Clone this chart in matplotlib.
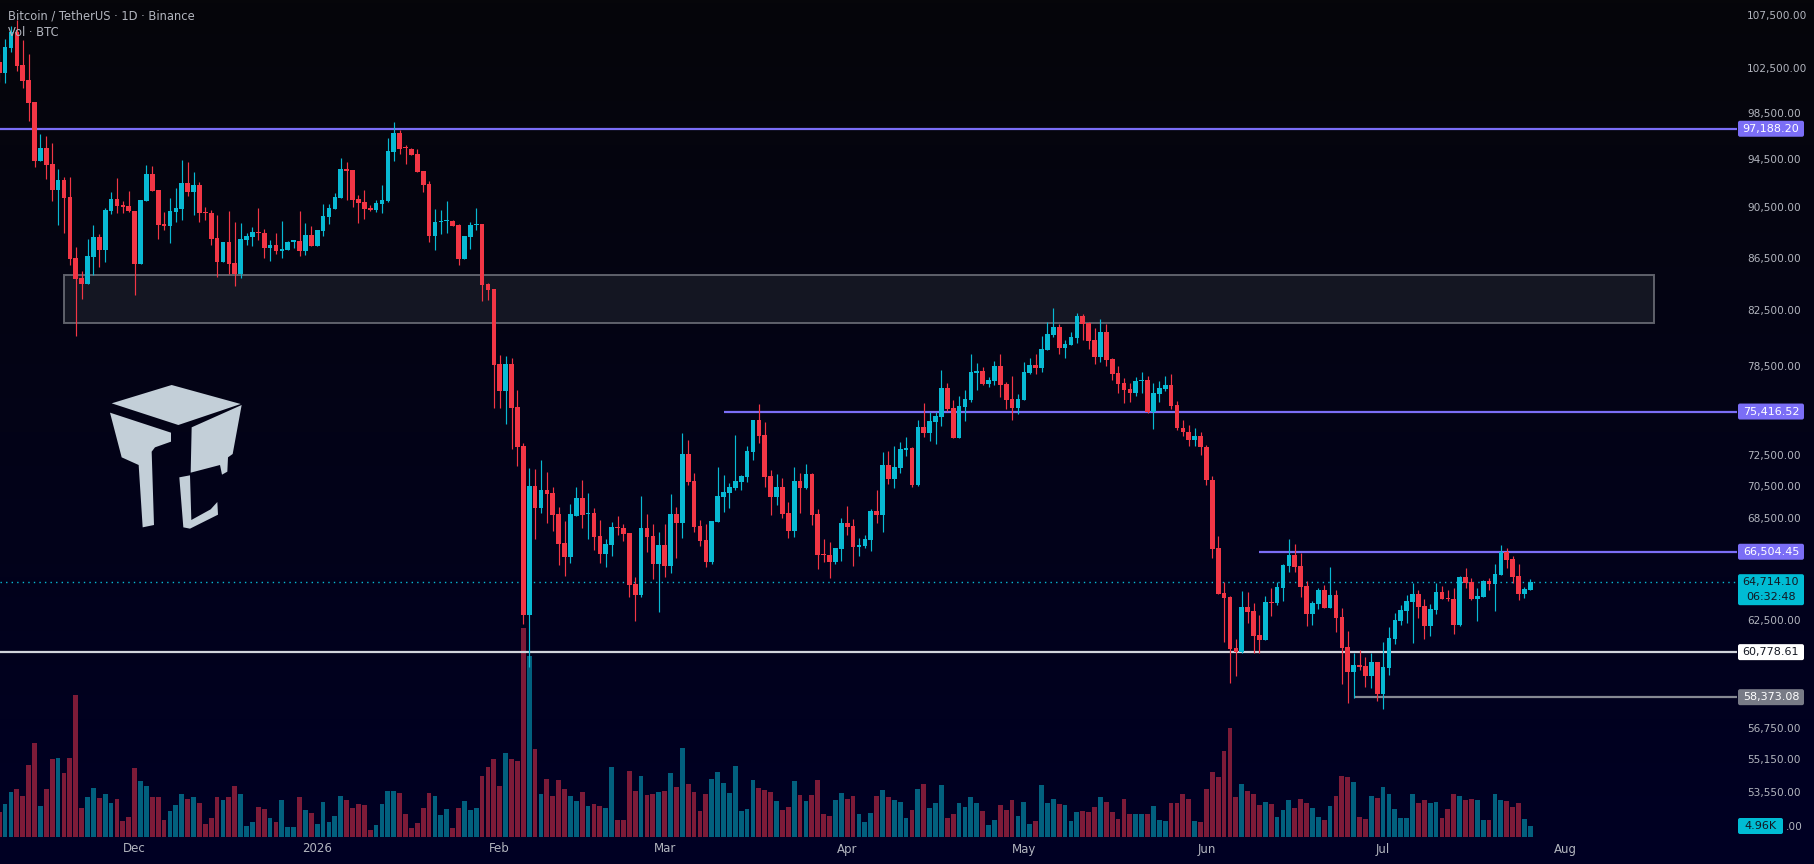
import numpy as np
import matplotlib
matplotlib.use("Agg")
import matplotlib.pyplot as plt
import matplotlib.dates as mdates
from matplotlib.patches import Rectangle, Polygon, FancyBboxPatch

# daily BTCUSDT candles, first candle 2025-11-08
start_day = "2025-11-08"
opens = [103200, 102180, 104500, 106010, 102920, 101540, 99560, 94430, 95530, 94170,
         92000, 92830, 91430, 86560, 85020, 84560, 86630, 88210, 87180, 90280,
         91260, 90770, 90690, 90280, 86090, 91100, 93330, 92000, 89240, 89080,
         90200, 90440, 92580, 91840, 92420, 90200, 90120, 88130, 86250, 87810,
         86170, 85320, 87970, 88210, 88600, 88520, 87330, 87570, 87100, 87180,
         87810, 87890, 87100, 88360, 87490, 88680, 89800, 90440, 91350, 93750,
         93670, 91260, 91020, 90520, 90360, 90860, 91100, 95190, 96830, 95620,
         95450, 95020, 93580, 92500, 88280, 89400, 89480, 89480, 89160, 86480,
         88210, 89160, 89240, 84560, 84180, 78700, 76820, 78700, 75730, 73120,
         62840, 70540, 69170, 70290, 70100, 68800, 67030, 66190, 68670, 69790,
         68800, 68860, 67450, 66370, 66910, 68000, 67940, 67630, 64610, 63970,
         67940, 67450, 65780, 66910, 65660, 68800, 68240, 72600, 70860, 68060,
         67210, 65900, 68300, 69850, 70100, 70420, 70800, 71120, 72730, 74850,
         73850, 71180, 69850, 70480, 68860, 67760, 70860, 70420, 71310, 68800,
         66370, 66310, 65900, 66670, 68240, 68060, 66790, 66850, 67210, 68980,
         68730, 71890, 70990, 71700, 72860, 72990, 70610, 74380, 73980, 74720,
         75050, 77030, 75660, 73650, 75730, 76200, 78070, 78210, 77310, 77510,
         78560, 77310, 76270, 75660, 76200, 78070, 78630, 78420, 79700, 80780,
         81360, 79840, 80060, 80560, 82170, 81650, 80420, 79200, 81000, 79060,
         78070, 77380, 76960, 76680, 77510, 77580, 75390, 76620, 76960, 77240,
         75860, 74320, 74050, 73520, 73780, 73060, 70930, 66730, 64090, 63860,
         61000, 60790, 63290, 63060, 61720, 61450, 63570, 63520, 64380, 65660,
         66310, 65660, 64490, 62900, 63460, 64260, 63230, 63970, 62730, 61060,
         59710, 60080, 60030, 59490, 60240, 58540, 59920, 61500, 62500, 63060,
         63570, 64030, 63350, 62220, 63120, 64150, 63800, 63750, 62280, 65020,
         64730, 63750, 63860, 64780, 64610, 65130, 66490, 66080, 65070, 64030,
         64260]
highs = [103940, 105350, 106580, 107160, 105250, 103940, 99560, 96740, 96570, 95960,
         93750, 93080, 93080, 87410, 85550, 88050, 89160, 88440, 90520, 91840,
         93000, 91100, 91920, 90280, 91180, 94090, 94010, 92000, 90200, 91350,
         92170, 94510, 94340, 93500, 92660, 90610, 90360, 89960, 87810, 90280,
         89400, 89320, 88520, 89000, 90520, 88840, 87970, 88520, 89480, 87890,
         87970, 90280, 89320, 89080, 88760, 90860, 90860, 91760, 94680, 94340,
         93670, 91590, 92000, 90770, 91180, 92420, 96390, 97790, 97090, 95790,
         95530, 95450, 93580, 92750, 90440, 90360, 91100, 89560, 89240, 88280,
         89400, 90520, 89240, 84640, 84180, 79340, 79270, 79130, 76890, 73320,
         71690, 71630, 72210, 71440, 70480, 69230, 68370, 69420, 70480, 70930,
         70100, 69170, 68430, 67270, 68300, 68670, 68180, 67630, 65020, 69920,
         68800, 68180, 67690, 68180, 70040, 69230, 73980, 73520, 71370, 68430,
         68180, 68370, 71760, 71250, 70740, 73850, 71250, 73120, 74850, 75930,
         74720, 71570, 71310, 71050, 69540, 71760, 71370, 71950, 71370, 69100,
         67270, 67090, 66730, 68550, 69290, 68490, 67330, 67510, 69100, 70290,
         72730, 72800, 73120, 73390, 73720, 73060, 74850, 76000, 75390, 75390,
         78280, 77380, 76200, 76480, 76890, 79410, 78780, 78490, 77790, 78920,
         79410, 77450, 77860, 76620, 78850, 79130, 79410, 80710, 81730, 82760,
         81580, 80420, 81000, 82390, 82320, 81730, 81290, 81950, 81580, 79130,
         78560, 77720, 77380, 77790, 78140, 77860, 77380, 77510, 77860, 78000,
         76140, 74850, 74510, 74320, 74050, 73190, 71180, 67450, 64730, 63920,
         61500, 64200, 64150, 63520, 62840, 63920, 64380, 64730, 65780, 67270,
         66970, 66430, 64780, 63630, 64380, 64550, 65600, 64260, 63230, 61940,
         60730, 60900, 60510, 60730, 60240, 61340, 62170, 62950, 63400, 63970,
         64670, 64260, 63750, 63460, 64670, 64490, 64260, 64380, 65070, 65540,
         64960, 64380, 64840, 64960, 65780, 66910, 66730, 66250, 65780, 64440,
         64900]
lows = [101360, 101270, 104130, 102370, 100820, 97880, 93920, 94430, 92910, 91100,
        89160, 88520, 86020, 80710, 83430, 84560, 85250, 85860, 86250, 90040,
        90120, 90120, 90200, 83730, 86090, 91100, 91920, 88050, 88760, 87730,
        89400, 89560, 91510, 89960, 89400, 89560, 87570, 85090, 86250, 85320,
        84410, 85020, 87570, 87490, 87970, 86560, 86320, 86870, 86560, 87180,
        87330, 86710, 86790, 87490, 87490, 88280, 89240, 90440, 91350, 91180,
        90610, 89320, 89640, 90280, 90200, 90120, 91020, 94430, 95020, 94170,
        94940, 93500, 91840, 87810, 87180, 88440, 88520, 89080, 86020, 86480,
        87260, 88760, 83280, 83360, 75660, 75660, 74580, 72920, 71820, 62330,
        59970, 67270, 68860, 68240, 67760, 65720, 65070, 65840, 68670, 67940,
        67270, 66610, 65840, 65600, 66250, 67510, 67150, 63860, 62500, 63860,
        66490, 64900, 63010, 65020, 65250, 66140, 67330, 70610, 67690, 66850,
        65600, 65780, 68300, 68920, 69170, 70290, 70290, 70800, 72210, 73320,
        70480, 68730, 69350, 68550, 67330, 67390, 68860, 70350, 68120, 65490,
        65900, 64960, 65780, 65960, 67510, 65660, 66250, 66730, 66550, 68240,
        67690, 70670, 70420, 71370, 72470, 70480, 70540, 73720, 73450, 73250,
        74450, 75460, 73650, 73650, 74780, 76070, 76890, 77240, 77100, 77240,
        76410, 75590, 74850, 75250, 76200, 78000, 78000, 78140, 79700, 80640,
        79420, 79130, 80060, 80200, 80420, 79770, 78700, 78850, 78560, 77580,
        76680, 76000, 76070, 76480, 76680, 75320, 74250, 76070, 76820, 75590,
        74180, 73780, 73120, 73120, 72540, 70610, 66140, 64030, 61340, 59120,
        59490, 60730, 62390, 60730, 60730, 61450, 62780, 63400, 63630, 65310,
        65310, 63860, 62220, 62280, 63180, 63230, 63230, 61890, 59070, 58070,
        58330, 59810, 58910, 58860, 58180, 57760, 59550, 61230, 62280, 62390,
        61280, 62670, 61500, 61670, 62900, 63750, 63630, 61780, 62220, 64380,
        63690, 62500, 63860, 64260, 63060, 65130, 65540, 64670, 63690, 63800,
        64260]
closes = [102180, 104600, 106010, 102820, 101450, 99470, 94430, 95530, 94090, 92000,
          92830, 91350, 86480, 84940, 84560, 86710, 88210, 87180, 90360, 91260,
          90690, 90610, 90280, 86090, 91180, 93330, 91920, 89160, 89080, 90280,
          90520, 92580, 91840, 92420, 90120, 90120, 88050, 86250, 87810, 86090,
          85320, 88050, 88280, 88600, 88520, 87330, 87570, 87100, 87260, 87810,
          87970, 87100, 88360, 87490, 88760, 89880, 90520, 91430, 93750, 93580,
          91180, 90930, 90440, 90360, 90930, 91180, 95280, 96830, 95450, 95530,
          94940, 93500, 92420, 88280, 89400, 89480, 89560, 89080, 86480, 88280,
          89160, 89240, 84490, 84110, 78630, 76820, 78700, 75660, 73060, 62840,
          70540, 69170, 70290, 70040, 68730, 66970, 66190, 68800, 69790, 68730,
          68860, 67390, 66370, 66970, 68000, 67940, 67570, 64550, 63970, 67940,
          67390, 65780, 66910, 65660, 68800, 68240, 72600, 70800, 68000, 67150,
          65900, 68370, 69920, 70170, 70480, 70860, 71180, 72800, 74850, 73780,
          71120, 69850, 70480, 68800, 67760, 70860, 70420, 71310, 68730, 66310,
          66310, 65900, 66730, 68240, 68000, 66790, 66910, 67270, 68980, 68730,
          71890, 70990, 71760, 72920, 72990, 70610, 74380, 73980, 74780, 75120,
          77030, 75590, 73650, 75800, 76270, 78140, 78210, 77310, 77580, 78560,
          77240, 76200, 75660, 76270, 78140, 78630, 78420, 79770, 80850, 81360,
          79840, 80130, 80640, 82170, 81580, 80350, 79200, 81000, 78990, 78000,
          77310, 76890, 76680, 77510, 77580, 75390, 76680, 77030, 77240, 75800,
          74320, 74050, 73520, 73780, 73060, 70930, 66670, 64030, 63800, 60950,
          60790, 63290, 63010, 61670, 61450, 63570, 63520, 64440, 65720, 66310,
          65600, 64440, 62900, 63520, 64260, 63230, 63970, 62670, 61000, 59710,
          60080, 59970, 59490, 60240, 58540, 59970, 61560, 62560, 63120, 63630,
          64030, 63290, 62220, 63180, 64150, 63750, 63750, 62280, 65020, 64670,
          63750, 63920, 64780, 64610, 65190, 66490, 66020, 65020, 64030, 64320,
          64714.10]
# volume in thousand BTC
volumes = [11.3, 14.9, 20.3, 21.6, 18.5, 32.4, 42.3, 14.0, 21.6, 35.1,
           35.6, 28.8, 35.6, 63.9, 13.1, 18.0, 22.1, 17.6, 19.4, 15.3,
           17.1, 7.2, 9.0, 31.1, 25.2, 23.0, 18.0, 18.0, 7.7, 11.7,
           14.4, 19.4, 17.1, 18.0, 15.3, 5.9, 8.6, 18.0, 16.7, 18.0,
           23.0, 19.4, 5.0, 6.8, 13.5, 12.6, 8.6, 6.8, 16.7, 4.5,
           4.5, 18.0, 12.2, 10.8, 5.9, 15.8, 6.8, 9.5, 18.5, 16.7,
           13.1, 14.9, 14.4, 3.2, 5.4, 14.9, 20.7, 20.7, 19.8, 10.4,
           4.1, 6.3, 13.1, 19.8, 18.5, 9.9, 12.6, 4.1, 13.1, 16.2,
           12.2, 13.1, 27.5, 31.5, 35.1, 23.0, 37.8, 35.1, 34.2, 94.1,
           81.5, 39.6, 19.4, 26.1, 18.5, 25.7, 21.6, 18.5, 16.2, 20.3,
           14.0, 14.9, 14.0, 13.1, 31.5, 7.7, 7.7, 29.7, 20.7, 27.5,
           18.9, 19.4, 20.3, 20.7, 28.8, 22.5, 40.1, 23.9, 20.3, 11.7,
           19.4, 26.1, 29.3, 24.3, 19.8, 32.0, 11.7, 12.6, 25.7, 22.1,
           21.2, 20.3, 16.2, 12.2, 13.5, 25.2, 18.9, 16.2, 18.9, 25.7,
           10.4, 9.5, 16.7, 19.8, 17.1, 18.5, 10.4, 6.8, 10.8, 18.5,
           21.2, 18.0, 16.7, 15.8, 8.6, 12.2, 21.6, 23.9, 13.1, 15.3,
           23.4, 8.6, 10.4, 15.3, 13.5, 18.0, 15.3, 11.7, 5.4, 7.7,
           14.4, 12.2, 16.7, 9.5, 15.8, 5.9, 7.2, 23.4, 15.3, 17.1,
           14.9, 14.4, 7.2, 11.3, 11.7, 11.3, 13.5, 18.0, 15.8, 11.3,
           8.1, 17.1, 10.4, 10.4, 10.4, 10.4, 14.0, 7.7, 7.2, 15.3,
           15.3, 19.4, 17.1, 7.2, 6.8, 21.6, 29.3, 27.0, 38.7, 49.1,
           18.0, 23.9, 20.7, 19.4, 14.4, 15.8, 14.9, 9.0, 12.2, 16.7,
           13.1, 17.1, 15.3, 13.1, 9.0, 7.7, 14.0, 18.5, 27.5, 27.0,
           24.8, 9.0, 8.1, 18.5, 17.6, 22.5, 19.4, 12.6, 8.6, 8.6,
           19.4, 15.3, 16.7, 15.3, 15.8, 8.6, 12.6, 19.4, 18.5, 16.7,
           17.1, 16.7, 7.7, 7.7, 19.4, 16.7, 16.2, 13.5, 15.3, 8.1,
           4.96]

price_ticks = [107500, 102500, 98500, 94500, 90500, 86500, 82500, 78500,
               72500, 70500, 68500, 62500, 56750, 55150, 53550]
hidden_tick = 51950   # mostly covered by the volume tag, only ".00" shows
month_ticks = ["2025-12-01", "2026-01-01", "2026-02-01", "2026-03-01",
               "2026-04-01", "2026-05-01", "2026-06-01", "2026-07-01", "2026-08-01"]
month_labels = ["Dec", "2026", "Feb", "Mar", "Apr", "May", "Jun", "Jul", "Aug"]

# drawn levels: (price, start date)
res_top = (97188.20, None)
res_mid = (75416.52, "2026-03-11")
res_low = (66504.45, "2026-06-10")
sup_main = 60778.61
sup_low = (58373.08, "2026-06-26")
last_price = 64714.10
zone = ("2025-11-19", "2026-08-16", 81650, 85240)

UP, DOWN = "#08B9D3", "#F23645"
VUP, VDOWN = "#02607E", "#7D1B38"
PURPLE = "#7B6EF6"
TXT = "#B2B5BE"

W, H = 1815, 864
fig = plt.figure(figsize=(W / 100, H / 100), dpi=100)

# gradient background
bg = fig.add_axes([0, 0, 1, 1], zorder=0)
g = np.linspace(0, 1, 256)[:, None, None]
top_c = np.array([6, 6, 10]) / 255
bot_c = np.array([0, 0, 36]) / 255
bg.imshow(top_c + (bot_c - top_c) * g, aspect="auto", extent=[0, 1, 0, 1])
bg.axis("off")

rect = [0, 27 / H, 1737 / W, 837 / H]
vax = fig.add_axes(rect, zorder=1)
ax = fig.add_axes(rect, zorder=2, sharex=vax)
for a in (ax, vax):
    a.patch.set_alpha(0)
    a.set_xticks([])
    a.set_yticks([])
    for s in a.spines.values():
        s.set_visible(False)

dates = np.arange(np.datetime64(start_day), np.datetime64(start_day) + len(closes))
x = mdates.date2num(dates)
o = np.array(opens, float)
h = np.array(highs, float)
l = np.array(lows, float)
c = np.array(closes, float)
up = c >= o
cols = np.where(up, UP, DOWN)

dec1 = mdates.date2num(np.datetime64("2025-12-01"))
x0, x1 = dec1 - 22.86, dec1 + 272.1

ax.set_yscale("log")
ax.set_ylim(51493, 109084)
ax.set_xlim(x0, x1)
ax.minorticks_off()
ax.set_yticks([])

# volume
vax.bar(x, volumes, width=0.82, color=np.where(up, VUP, VDOWN), linewidth=0)
vax.set_ylim(0, 837 * 0.451)

# zone box
zx0 = mdates.date2num(np.datetime64(zone[0]))
zx1 = mdates.date2num(np.datetime64(zone[1]))
ax.add_patch(Rectangle((zx0, zone[2]), zx1 - zx0, zone[3] - zone[2],
                       facecolor="#181a26", alpha=0.85, edgecolor="#6E7079",
                       linewidth=1.4, zorder=1))

# levels
def level(p, start, color, lw=1.6):
    xs = x0 if start is None else mdates.date2num(np.datetime64(start))
    ax.hlines(p, xs, x1, color=color, lw=lw, zorder=2)

level(res_top[0], res_top[1], PURPLE)
level(res_mid[0], res_mid[1], PURPLE)
level(res_low[0], res_low[1], PURPLE)
level(sup_main, None, "#D1D4DC")
level(sup_low[0], sup_low[1], "#868993")
ax.hlines(last_price, x0, x1, color=UP, lw=1.0, linestyles=(0, (1, 3)), zorder=2)

# candles
ax.vlines(x, l, h, colors=cols, lw=0.85, zorder=3)
body_lo = np.minimum(o, c)
body_h = np.maximum(np.abs(c - o), body_lo * 0.0012)
ax.bar(x, body_h, bottom=body_lo, width=0.79, color=cols, linewidth=0, zorder=4)

# overlay in pixel space for the axis labels / tags / watermark
ov = fig.add_axes([0, 0, 1, 1], zorder=5)
ov.set_xlim(0, W)
ov.set_ylim(0, H)
ov.axis("off")
ov.patch.set_alpha(0)


def ypix(p):
    return ax.transData.transform((x0, p))[1]


for p in price_ticks:
    ov.text(1747, ypix(p), f"{p:,.2f}", ha="left", va="center",
            fontsize=7.6, color=TXT, zorder=2)


def tag(p, text, face, tc, w=66):
    y = ypix(p)
    ov.add_patch(FancyBboxPatch((1738, y - 8), w, 16, boxstyle="round,pad=0,rounding_size=2",
                                facecolor=face, edgecolor="none", zorder=4))
    ov.text(1738 + w / 2, y, text, ha="center", va="center", fontsize=8,
            color=tc, zorder=5)


tag(res_top[0], f"{res_top[0]:,.2f}", PURPLE, "white")
tag(res_mid[0], f"{res_mid[0]:,.2f}", PURPLE, "white")
tag(res_low[0], f"{res_low[0]:,.2f}", PURPLE, "white")
tag(sup_main, f"{sup_main:,.2f}", "white", "#131722")
tag(sup_low[0], f"{sup_low[0]:,.2f}", "#787B86", "white")

# last price tag with countdown
yl = ypix(last_price)
ov.add_patch(FancyBboxPatch((1738, yl - 23), 66, 31, boxstyle="round,pad=0,rounding_size=2",
                            facecolor="#00BCD4", edgecolor="none", zorder=4))
ov.text(1771, yl, f"{last_price:,.2f}", ha="center", va="center", fontsize=8,
        color="#131722", zorder=5)
ov.text(1771, yl - 15, "06:32:48", ha="center", va="center", fontsize=8,
        color="#131722", zorder=5)

# volume tag, sitting on top of the lowest price tick
yv = vax.transData.transform((x0, volumes[-1]))[1]
ov.add_patch(FancyBboxPatch((1738, yv - 8), 45, 16, boxstyle="round,pad=0,rounding_size=2",
                            facecolor="#00BCD4", edgecolor="none", zorder=4))
ov.text(1760.5, yv, f"{volumes[-1]:.2f}K", ha="center", va="center", fontsize=8,
        color="#131722", zorder=5)
ov.text(1786, ypix(hidden_tick), f"{hidden_tick:,.2f}"[-3:], ha="left", va="center",
        fontsize=7.6, color=TXT, zorder=6, clip_on=False)

# month labels
for d, lab in zip(month_ticks, month_labels):
    xp = ax.transData.transform((mdates.date2num(np.datetime64(d)), 60000))[0]
    ov.text(xp, H - 849, lab, ha="center", va="center", fontsize=8.5, color=TXT)

# header
ov.text(8, H - 16, "Bitcoin / TetherUS · 1D · Binance", ha="left", va="center",
        fontsize=8.3, color=TXT, zorder=6)
ov.text(8, H - 33, "Vol · BTC", ha="left", va="center", fontsize=8.3, color=TXT, zorder=6)

# watermark logo
logo_parts = [
    [(65, 100), (245, 45), (452, 102), (265, 165)],
    [(60, 128), (243, 188), (243, 215), (195, 232), (185, 245), (192, 465),
     (158, 472), (146, 285), (95, 262)],
    [(305, 172), (455, 105), (428, 252), (414, 262), (412, 305), (396, 314),
     (390, 285), (302, 308)],
    [(268, 322), (300, 316), (304, 450), (362, 418), (382, 396), (384, 434),
     (300, 476), (280, 472)],
]
for part in logo_parts:
    pts = [(90 + px / 3, H - (370 + py / 3)) for px, py in part]
    ov.add_patch(Polygon(pts, closed=True, facecolor="#C3CFD8", edgecolor="none", zorder=1))

fig.savefig("out.png", dpi=100)
